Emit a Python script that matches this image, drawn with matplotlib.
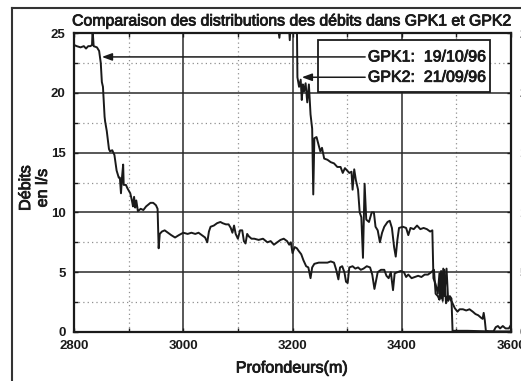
import numpy as np
import matplotlib
matplotlib.use('Agg')
import matplotlib.pyplot as plt
import matplotlib.patheffects as pe
from matplotlib.patches import Rectangle
from matplotlib.lines import Line2D

plt.rcParams['font.family'] = ['Liberation Sans', 'DejaVu Sans']

# ---- flow logs (depth in m, flow in l/s) ----
gpk1_depth = [2800, 2805, 2812, 2818, 2822, 2826, 2830, 2833, 2834, 2836, 2842, 2846, 2849,
              2851, 2853, 2856, 2857, 2860, 2864, 2866, 2870, 2874, 2878, 2882, 2884, 2886,
              2888, 2890, 2891, 2895, 2898, 2903, 2906, 2908, 2910, 2912, 2914, 2917, 2922,
              2927, 2932, 2940, 2945, 2950, 2953, 2955, 2957, 2961, 2966, 2972, 2978, 2985,
              2992, 3000, 3008, 3015, 3022, 3028, 3034, 3040, 3044, 3047, 3050, 3056, 3062,
              3068, 3072, 3078, 3083, 3087, 3090, 3093, 3096, 3100, 3104, 3108, 3111, 3114,
              3117, 3120, 3125, 3130, 3138, 3146, 3154, 3160, 3166, 3172, 3178, 3184, 3190,
              3194, 3197, 3200, 3204, 3208, 3211, 3216, 3220, 3225, 3229, 3233, 3236, 3240,
              3248, 3256, 3264, 3270, 3276, 3280, 3284, 3287, 3291, 3295, 3298, 3301, 3304,
              3310, 3315, 3320, 3325, 3330, 3336, 3342, 3346, 3350, 3353, 3356, 3362, 3368,
              3372, 3376, 3380, 3384, 3387, 3392, 3398, 3404, 3408, 3412, 3418, 3424, 3430,
              3436, 3442, 3448, 3454, 3459, 3462, 3466, 3469, 3472, 3475, 3478, 3481, 3484,
              3488, 3492, 3497, 3502, 3506, 3512, 3518, 3524, 3530, 3535, 3540, 3545, 3548,
              3550, 3552, 3554, 3560, 3568, 3572, 3576, 3580, 3585, 3590, 3596, 3600]
gpk1_flow = [24.0, 23.9, 23.8, 23.9, 23.7, 23.9, 23.9, 24.0, 25.3, 23.9, 23.8, 23.5, 22.5,
             20.9, 20.5, 18.0, 17.6, 16.8, 15.3, 15.1, 15.2, 14.8, 13.5, 12.9, 12.9, 11.6,
             13.0, 14.0, 12.3, 12.3, 12.0, 11.6, 11.0, 10.5, 11.3, 10.4, 11.0, 10.1, 10.3,
             10.2, 10.5, 10.8, 10.8, 10.6, 10.3, 7.0, 8.2, 8.4, 8.5, 8.3, 8.1, 7.9,
             8.1, 8.3, 8.2, 8.3, 8.2, 8.3, 8.1, 7.9, 7.5, 8.4, 8.8, 8.9, 9.1,
             9.2, 9.1, 9.0, 9.0, 8.7, 8.3, 8.9, 8.2, 7.8, 8.5, 8.5, 7.6, 7.4,
             8.2, 8.0, 7.8, 7.8, 7.7, 7.8, 7.5, 7.6, 7.3, 7.5, 7.7, 7.8, 7.6,
             7.3, 7.5, 6.6, 7.1, 7.0, 6.8, 6.5, 6.0, 5.5, 5.4, 4.5, 5.4, 5.7,
             5.8, 5.8, 5.8, 5.9, 5.8, 5.2, 4.4, 5.4, 5.5, 5.0, 4.2, 4.1, 5.4,
             5.5, 5.3, 5.4, 5.2, 5.3, 5.5, 5.4, 4.8, 3.6, 4.3, 5.0, 5.2, 5.2,
             4.7, 4.5, 5.0, 3.5, 4.9, 5.0, 5.1, 5.0, 4.6, 4.8, 4.5, 4.6, 4.7,
             4.6, 4.8, 4.8, 5.0, 5.2, 3.2, 3.0, 2.7, 5.1, 2.6, 5.2, 2.4, 3.0,
             2.8, 2.5, 2.0, 1.7, 1.9, 1.9, 1.8, 1.9, 1.7, 1.5, 1.4, 1.2, 1.1,
             1.6, 1.0, 0.1, 0.05, 0.05, 0.4, 0.5, 0.3, 0.5, 0.3, 0.3, 0.6]

gpk2_depth = [3172, 3176, 3179, 3193, 3195, 3197, 3208, 3209, 3212, 3215, 3217, 3219, 3221,
              3224, 3227, 3230, 3233, 3236, 3238, 3240, 3244, 3248, 3251, 3254, 3258, 3264,
              3270, 3276, 3282, 3288, 3292, 3296, 3300, 3304, 3308, 3310, 3313, 3316, 3320,
              3323, 3326, 3329, 3332, 3335, 3340, 3345, 3349, 3352, 3356, 3360, 3364, 3368,
              3374, 3378, 3382, 3386, 3389, 3392, 3395, 3402, 3408, 3412, 3416, 3422, 3428,
              3434, 3440, 3446, 3452, 3456, 3458, 3462, 3466, 3469, 3472, 3476, 3478, 3482,
              3485, 3488, 3491, 3493, 3520, 3560, 3600]
gpk2_flow = [26.0, 24.6, 26.0, 26.0, 24.4, 26.0, 26.0, 21.3, 20.5, 21.1, 19.4, 20.7, 20.1,
             20.8, 19.2, 20.7, 18.2, 17.0, 11.5, 16.2, 16.3, 15.6, 15.1, 15.4, 14.5, 14.4,
             14.2, 14.1, 13.8, 13.8, 13.3, 13.7, 13.5, 13.3, 13.4, 11.9, 13.6, 12.7, 11.9,
             10.0, 9.6, 6.2, 12.4, 9.4, 9.2, 10.0, 10.0, 8.8, 8.5, 7.5, 8.3, 8.8,
             9.2, 9.3, 8.7, 7.1, 6.3, 7.7, 8.7, 8.8, 8.7, 8.1, 8.7, 8.6, 8.9,
             8.6, 8.7, 8.6, 8.4, 8.5, 4.5, 4.0, 3.2, 4.9, 2.8, 5.3, 3.0, 5.3,
             2.6, 3.0, 2.8, 0.1, 0.1, 0.05, 0.05]

series_labels = ['GPK1:  19/10/96', 'GPK2:  21/09/96']
# where each legend line points on its curve (depth, flow)
arrow_tips = [(2851, 23.0), (3217, 21.3)]

xticks = [2800, 3000, 3200, 3400, 3600]
yticks = [0, 5, 10, 15, 20, 25]

W, H = 521, 381
fig = plt.figure(figsize=(W / 100, H / 100), dpi=100)
fig.patch.set_facecolor('white')
ax = fig.add_axes([74 / W, 1 - 332 / H, (511 - 74) / W, (332 - 33) / H])

ink = '#1a1a1a'
heavy = [pe.withStroke(linewidth=0.6, foreground=ink)]

ax.set_xlim(2800, 3600)
ax.set_ylim(0, 25)

# grid: solid on major, dotted on minor
ax.set_xticks(xticks)
ax.set_yticks(yticks)
ax.set_xticks(np.arange(2900, 3600, 200), minor=True)
ax.set_yticks(np.arange(2.5, 25, 5), minor=True)
ax.grid(True, which='major', color='#2a2a2a', linewidth=1.1, linestyle='-')
ax.grid(True, which='minor', color='#909090', linewidth=0.9, linestyle=(0, (1, 2.5)))
ax.set_axisbelow(True)

ax.plot(gpk1_depth, gpk1_flow, color=ink, linewidth=1.4)
ax.plot(gpk2_depth, gpk2_flow, color=ink, linewidth=1.4)

for side in ax.spines.values():
    side.set_linewidth(1.6)
    side.set_color(ink)
ax.tick_params(which='both', direction='in', top=True, right=True, length=3,
               width=1.0, color=ink)
ax.tick_params(which='both', labelright=True)
ax.tick_params(axis='y', pad=6)
ax.tick_params(axis='x', pad=6)
for lab in ax.get_xticklabels() + ax.get_yticklabels():
    lab.set_fontsize(9.5)
    lab.set_fontweight('bold')
    lab.set_color(ink)

# legend box with lines running out to each curve
box = Rectangle((3246, 20.1), 3562 - 3246, 24.4 - 20.1, facecolor='white',
                edgecolor=ink, linewidth=1.3, zorder=3)
ax.add_patch(box)
for (tx, ty), label in zip(arrow_tips, series_labels):
    ax.annotate('', xy=(tx, ty), xytext=(3333, ty),
                arrowprops=dict(arrowstyle='-|>,head_length=0.6,head_width=0.22',
                                color=ink, lw=1.1, shrinkA=0, shrinkB=0), zorder=4)
    ax.text(3338, ty, label, fontsize=11.5, color=ink, va='center', ha='left', zorder=5,
            path_effects=heavy)

fig.text(292 / W, 1 - 21 / H, 'Comparaison des distributions des débits dans GPK1 et GPK2',
         fontsize=11.4, color=ink, ha='center', va='center', path_effects=heavy)
fig.text(292 / W, 1 - 368 / H, 'Profondeurs(m)', fontsize=11.6, color=ink,
         ha='center', va='center', path_effects=heavy)
fig.text(34 / W, 1 - 188 / H, 'Débits\nen l/s', fontsize=11.6, color=ink, rotation=90,
         ha='center', va='center', multialignment='center', linespacing=1.15,
         path_effects=heavy)

# scan frame along the left and top
fig.add_artist(Line2D([12 / W, 12 / W], [0, 1 - 8 / H], transform=fig.transFigure,
                      color='#333333', linewidth=1.5))
fig.add_artist(Line2D([12 / W, 1], [1 - 8 / H, 1 - 8 / H], transform=fig.transFigure,
                      color='#333333', linewidth=1.5))

fig.savefig('out.png', dpi=100)
